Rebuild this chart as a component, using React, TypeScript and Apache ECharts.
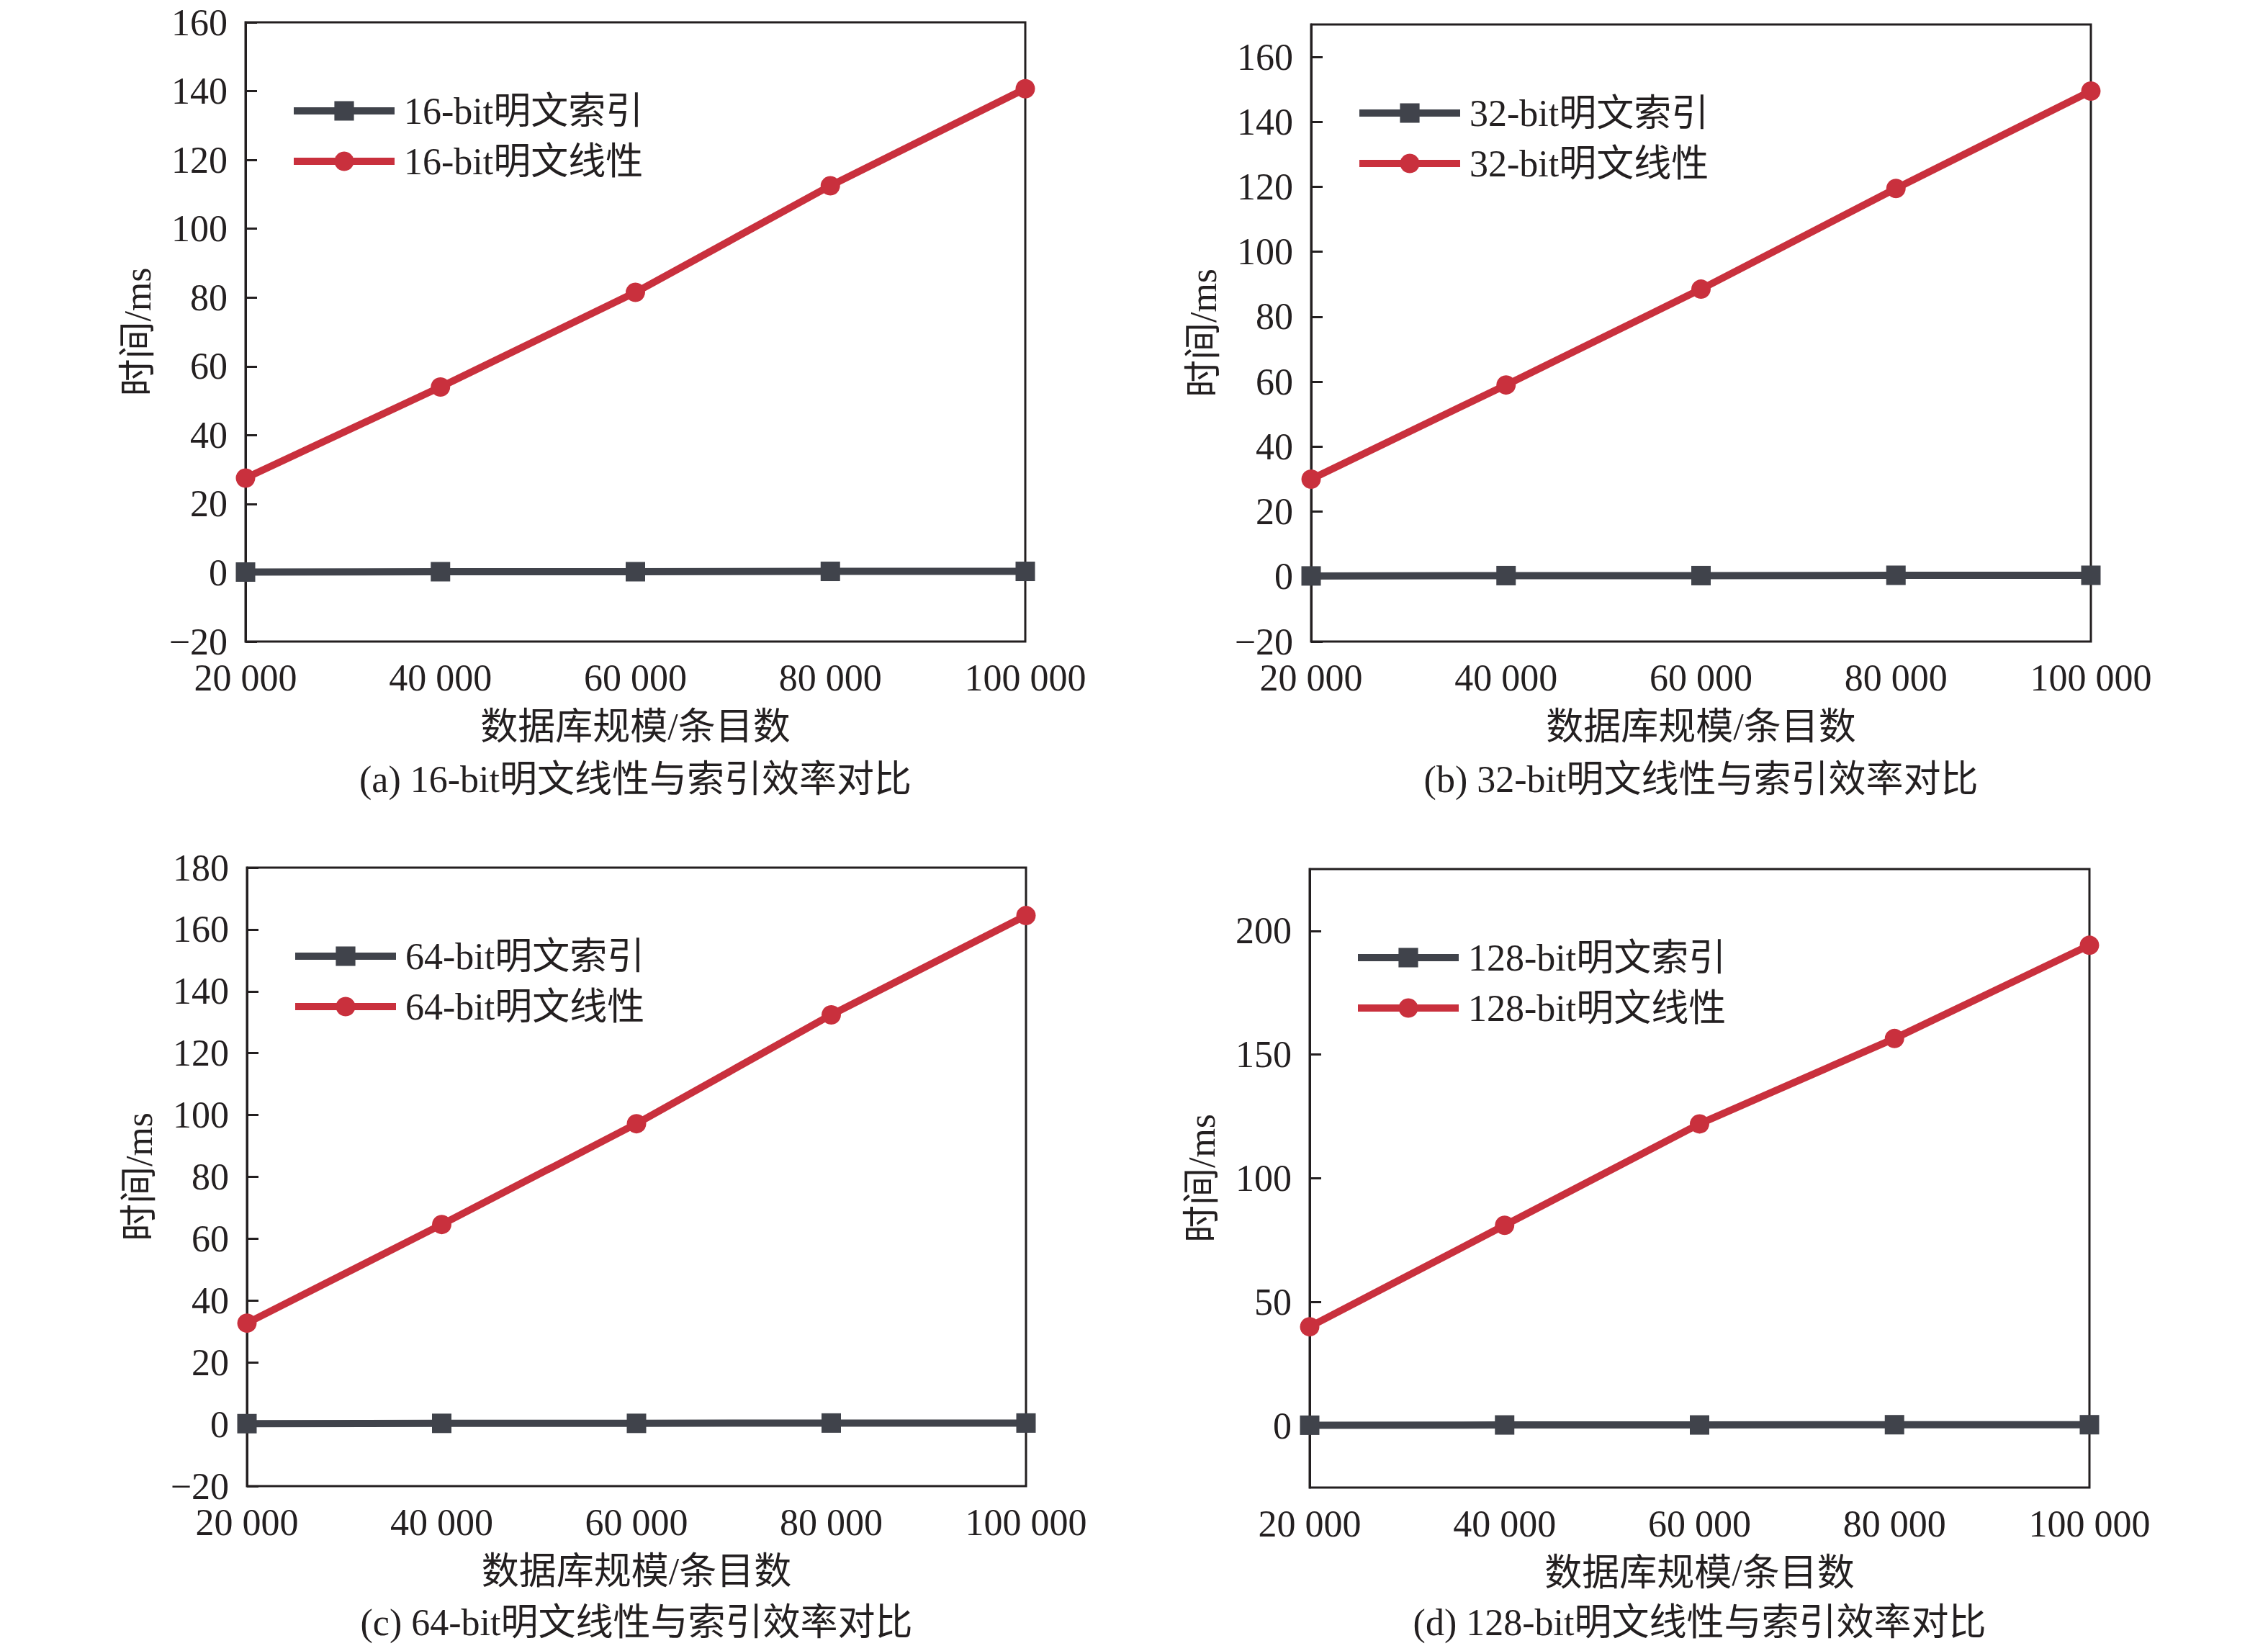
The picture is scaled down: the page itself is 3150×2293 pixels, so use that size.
import React, { useEffect, useRef } from 'react';
import * as echarts from 'echarts';

const sizes = [20000, 40000, 60000, 80000, 100000];

const bits = ['16', '32', '64', '128'];
const panelTags = ['(a)', '(b)', '(c)', '(d)'];

// 索引查询耗时（几乎为 0）
const index16 = [0.2, 0.3, 0.3, 0.4, 0.4];
const index32 = [0.2, 0.3, 0.3, 0.4, 0.4];
const index64 = [0.2, 0.3, 0.3, 0.4, 0.4];
const index128 = [0.2, 0.3, 0.3, 0.4, 0.4];

// 线性查询耗时
const linear16 = [27.5, 54, 81.5, 112.5, 140.7];
const linear32 = [30, 59, 88.5, 119.5, 149.5];
const linear64 = [32.7, 64.6, 97.2, 132.4, 164.5];
const linear128 = [40, 81, 122, 156.5, 194.2];

// y 轴范围与刻度
const yMin = [-20, -20, -20, -25];
const yMax = [160, 170, 180, 225];
const yTicks16 = [-20, 0, 20, 40, 60, 80, 100, 120, 140, 160];
const yTicks32 = [-20, 0, 20, 40, 60, 80, 100, 120, 140, 160];
const yTicks64 = [-20, 0, 20, 40, 60, 80, 100, 120, 140, 160, 180];
const yTicks128 = [0, 50, 100, 150, 200];

const indexData = [index16, index32, index64, index128];
const linearData = [linear16, linear32, linear64, linear128];
const yTicks = [yTicks16, yTicks32, yTicks64, yTicks128];

const FONT = "'Liberation Serif', 'Times New Roman', 'Noto Sans CJK SC', serif";
const INK = '#231f20';
const GRAY = '#40434b';
const RED = '#c9303d';

// 每个子图的位置
const grids = [
  { left: 341, top: 31, width: 1083, height: 860 },
  { left: 1821, top: 34, width: 1083, height: 857 },
  { left: 343, top: 1205, width: 1082, height: 859 },
  { left: 1819, top: 1207, width: 1083, height: 859 },
];

const fmtX = (v: number) => String(v).replace(/\B(?=(\d{3})+(?!\d))/g, ' ');
const fmtY = (v: number) => (v < 0 ? '\u2212' + Math.abs(v) : String(v));

const App: React.FC = () => {
  const chartRef = useRef<HTMLDivElement>(null);

  useEffect(() => {
    document.body.style.margin = '0';
    if (!chartRef.current) return;
    const chart = echarts.init(chartRef.current, null, { renderer: 'svg' });

    const axisLine = { show: true, lineStyle: { color: INK, width: 3 } };

    const option = {
      animation: false,
      backgroundColor: '#fff',
      textStyle: { fontFamily: FONT },
      grid: grids.map(g => ({
        ...g,
        show: true,
        borderColor: INK,
        borderWidth: 3,
        backgroundColor: 'transparent',
      })),
      xAxis: grids.map((_, i) => ({
        type: 'value',
        gridIndex: i,
        min: 20000,
        max: 100000,
        interval: 20000,
        name: '数据库规模/条目数',
        nameLocation: 'middle',
        nameGap: 92,
        nameTextStyle: { fontSize: 52, color: INK, fontFamily: FONT },
        axisLine,
        axisTick: { show: true, inside: true, length: 14, lineStyle: { color: INK, width: 2 } },
        axisLabel: {
          margin: 24,
          fontSize: 52,
          color: INK,
          fontFamily: FONT,
          formatter: fmtX,
        },
        splitLine: { show: false },
      })),
      yAxis: grids.map((_, i) => ({
        type: 'value',
        gridIndex: i,
        min: yMin[i],
        max: yMax[i],
        name: '时间/ms',
        nameLocation: 'middle',
        nameGap: 124,
        nameTextStyle: { fontSize: 52, color: INK, fontFamily: FONT },
        axisLine,
        axisTick: {
          show: true,
          inside: true,
          length: 16,
          lineStyle: { color: INK, width: 3 },
          customValues: yTicks[i],
        },
        axisLabel: {
          margin: 25,
          fontSize: 52,
          color: INK,
          fontFamily: FONT,
          formatter: fmtY,
          customValues: yTicks[i],
        },
        splitLine: { show: false },
      })),
      legend: grids.map((g, i) => ({
        data: [`${bits[i]}-bit明文索引`, `${bits[i]}-bit明文线性`],
        orient: 'vertical',
        left: g.left + 57,
        top: g.top + 88,
        itemWidth: 140,
        itemHeight: 34,
        itemGap: 10,
        lineStyle: { width: 10 },
        textStyle: {
          fontSize: 52,
          lineHeight: 60,
          color: INK,
          fontFamily: FONT,
          padding: [0, 0, 0, 8],
        },
      })),
      graphic: grids.map((g, i) => ({
        type: 'text',
        x: g.left + g.width / 2,
        y: i < 2 ? 1082 : 2253,
        style: {
          text: `${panelTags[i]} ${bits[i]}-bit明文线性与索引效率对比`,
          x: 0,
          y: 0,
          align: 'center',
          verticalAlign: 'middle',
          fontSize: 52,
          fontFamily: FONT,
          fill: INK,
        },
      })),
      series: grids.flatMap((_, i) => [
        {
          name: `${bits[i]}-bit明文索引`,
          type: 'line',
          xAxisIndex: i,
          yAxisIndex: i,
          data: sizes.map((s, k) => [s, indexData[i][k]]),
          symbol: 'rect',
          symbolSize: 27,
          lineStyle: { color: GRAY, width: 10 },
          itemStyle: { color: GRAY },
          z: 3,
        },
        {
          name: `${bits[i]}-bit明文线性`,
          type: 'line',
          xAxisIndex: i,
          yAxisIndex: i,
          data: sizes.map((s, k) => [s, linearData[i][k]]),
          symbol: 'circle',
          symbolSize: 27,
          lineStyle: { color: RED, width: 10 },
          itemStyle: { color: RED },
          z: 3,
        },
      ]),
    };

    chart.setOption(option);

    return () => {
      chart.dispose();
    };
  }, []);

  return <div ref={chartRef} style={{ width: 3150, height: 2293, background: '#fff' }} />;
};

export default App;
